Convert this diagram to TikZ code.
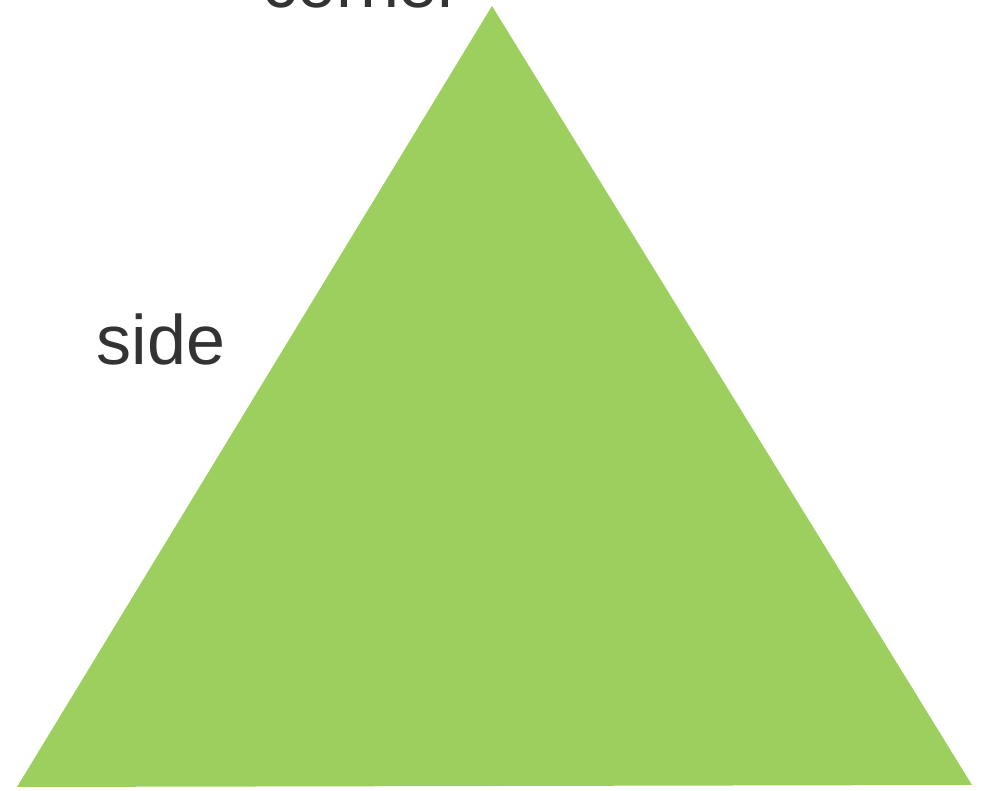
\documentclass[tikz,border=0pt]{standalone}
\usepackage{fontspec}
\setmainfont{Liberation Sans}
\definecolor{leafgreen}{RGB}{156,207,94}
\definecolor{labelgray}{RGB}{51,51,51}

\begin{document}
\begin{tikzpicture}[x=1pt,y=1pt,font=\fontsize{70}{80}\selectfont]
  \tikzset{lbl/.style={text=labelgray,inner sep=0pt,anchor=base}}
  \useasboundingbox (0,0) rectangle (981,791);
  \coordinate (top) at (492,785);
  \coordinate (left) at (17,4);
  \coordinate (right) at (972,6);
  \fill[leafgreen] (top) -- (left) -- (right) -- cycle;
  \node[lbl] (corner) at (362,783) {corner};
  \node[lbl] (side) at (161,426) {side};
\end{tikzpicture}
\end{document}
